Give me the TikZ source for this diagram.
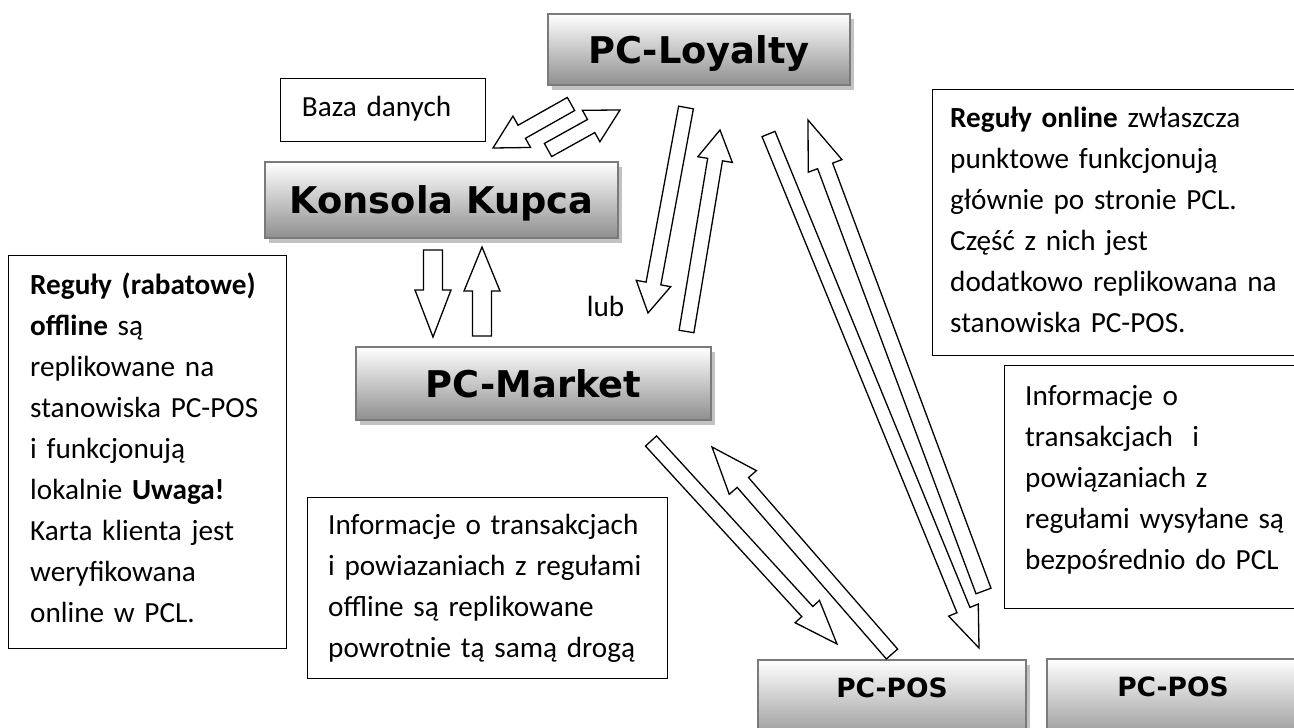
\documentclass[tikz,border=0pt]{standalone}
\usepackage{fontspec}
\setmainfont{Carlito}
\newfontfamily\boxfont{DejaVu Sans}
\usetikzlibrary{positioning}
\usetikzlibrary{calc,shadows}
\definecolor{boxedge}{HTML}{7A7A7A}
\definecolor{boxdark}{HTML}{8F8F8F}
\definecolor{boxshadow}{HTML}{C2C2C2}
\tikzstyle{every path}=[line join=miter]
\tikzstyle{pcbox}=[draw=boxedge,line width=1.7pt,top color=white,bottom color=boxdark,
  drop shadow={shadow xshift=4pt,shadow yshift=-5pt,fill=boxshadow,opacity=1},
  inner sep=0pt,text height=27pt,text depth=0pt,
  font=\fontsize{36.8pt}{44pt}\boxfont\bfseries]
\tikzstyle{posbox}=[pcbox,anchor=north,text height=38pt,text depth=48pt,
  font=\fontsize{26.5pt}{32pt}\boxfont\bfseries]
\tikzstyle{notebox}=[draw,line width=1.3pt,inner sep=0pt,anchor=north west]
\tikzstyle{note}=[inner sep=0pt,anchor=base west,text width=420pt,align=left,
  font=\fontsize{29.2pt}{41pt}\selectfont]
\tikzstyle{blockarrow}=[draw,fill=white,line width=1.3pt]
% tail, tip, head length, shaft half width, head half width
\newcommand{\bigarrow}[5]{%
  \coordinate (hb) at ($(#2)!#3!(#1)$);
  \draw[blockarrow] ($(#1)!#4!90:(#2)$) -- ($(hb)!#4!90:(#2)$) -- ($(hb)!#5!90:(#2)$)
    -- (#2) -- ($(hb)!#5!-90:(#2)$) -- ($(hb)!#4!-90:(#2)$) -- ($(#1)!#4!-90:(#2)$) -- cycle;}

\begin{document}
\begin{tikzpicture}[x=1pt,y=-1pt]
  \path[use as bounding box,fill=white] (0,0) rectangle (1294,728);

  % shaded boxes
  \node[pcbox,minimum width=302pt,minimum height=71pt] (loyalty) at (699,49.5) {PC-Loyalty};
  \node[pcbox,minimum width=353pt,minimum height=76pt] (konsola) at (441.5,200) {Konsola Kupca};
  \node[pcbox,minimum width=355pt,minimum height=73pt] (market) at (533.5,383.5) {PC-Market};
  \node[posbox,minimum width=268pt] (pos1) at (892,659) {PC-POS};
  \node[posbox,minimum width=252pt] (pos2) at (1173,658) {PC-POS};

  % text boxes
  \node[notebox,minimum width=205pt,minimum height=63pt] (baza) at (280,78) {};
  \node[note] (bazatext) at ($(baza.north west)+(21.7,38.7)$) {Baza danych};

  \node[notebox,minimum width=278pt,minimum height=393pt] (offline) at (8,255) {};
  \node[note] (offlinetext) at ($(offline.north west)+(22,39)$)
    {\textbf{Reguły (rabatowe)}\\ \textbf{offline} są\\ replikowane na\\ stanowiska PC-POS\\
     i funkcjonują\\ lokalnie \textbf{Uwaga!}\\ Karta klienta jest\\ weryfikowana\\ online w PCL.};

  \node[notebox,minimum width=380pt,minimum height=266pt] (online) at (932,89) {};
  \node[note] (onlinetext) at ($(online.north west)+(18,38)$)
    {\textbf{Reguły online} zwłaszcza\\ punktowe funkcjonują\\ głównie po stronie PCL.\\
     Część z nich jest\\ dodatkowo replikowana na\\ stanowiska PC-POS.};

  \node[notebox,minimum width=310pt,minimum height=243pt] (direct) at (1004,365) {};
  \node[note] (directtext) at ($(direct.north west)+(21,40)$)
    {Informacje o\\ transakcjach\ \ i\\ powiązaniach z\\ regułami wysyłane są\\ bezpośrednio do PCL};

  \node[notebox,minimum width=360pt,minimum height=181pt] (back) at (307,497) {};
  \node[note] (backtext) at ($(back.north west)+(21,37.3)$)
    {Informacje o transakcjach\\ i powiazaniach z regułami\\ offline są replikowane\\ powrotnie tą samą drogą};

  \node[note] (lub) at (586.7,316.7) {lub};

  % arrow ends
  \coordinate (kl1) at (571,104);   \coordinate (kl2) at (493,148);
  \coordinate (lk1) at (548,150);   \coordinate (lk2) at (620,110);
  \coordinate (km1) at (433,250);   \coordinate (km2) at (433,337);
  \coordinate (mk1) at (482,336);   \coordinate (mk2) at (482,247);
  \coordinate (lm1) at (686,107.5); \coordinate (lm2) at (648,313);
  \coordinate (ml1) at (686.5,331.5); \coordinate (ml2) at (720,130);
  \coordinate (lp1) at (768.5,134); \coordinate (lp2) at (979,648);
  \coordinate (pl1) at (983.5,591); \coordinate (pl2) at (808,120);
  \coordinate (mp1) at (651,441);   \coordinate (mp2) at (837,644);
  \coordinate (pm1) at (892,654);   \coordinate (pm2) at (712,447);

  \bigarrow{kl1}{kl2}{33pt}{7.5pt}{18pt}
  \bigarrow{lk1}{lk2}{33pt}{7.5pt}{18pt}
  \bigarrow{km1}{km2}{47pt}{9.5pt}{18pt}
  \bigarrow{mk1}{mk2}{44pt}{9.5pt}{18pt}
  \bigarrow{lm1}{lm2}{30pt}{7.5pt}{17.5pt}
  \bigarrow{ml1}{ml2}{30pt}{7.5pt}{17.5pt}
  \bigarrow{lp1}{lp2}{41pt}{7pt}{16pt}
  \bigarrow{pl1}{pl2}{49pt}{8pt}{18pt}
  \bigarrow{mp1}{mp2}{44pt}{7.5pt}{16.5pt}
  \bigarrow{pm1}{pm2}{47pt}{7.5pt}{18pt}
\end{tikzpicture}
\end{document}
